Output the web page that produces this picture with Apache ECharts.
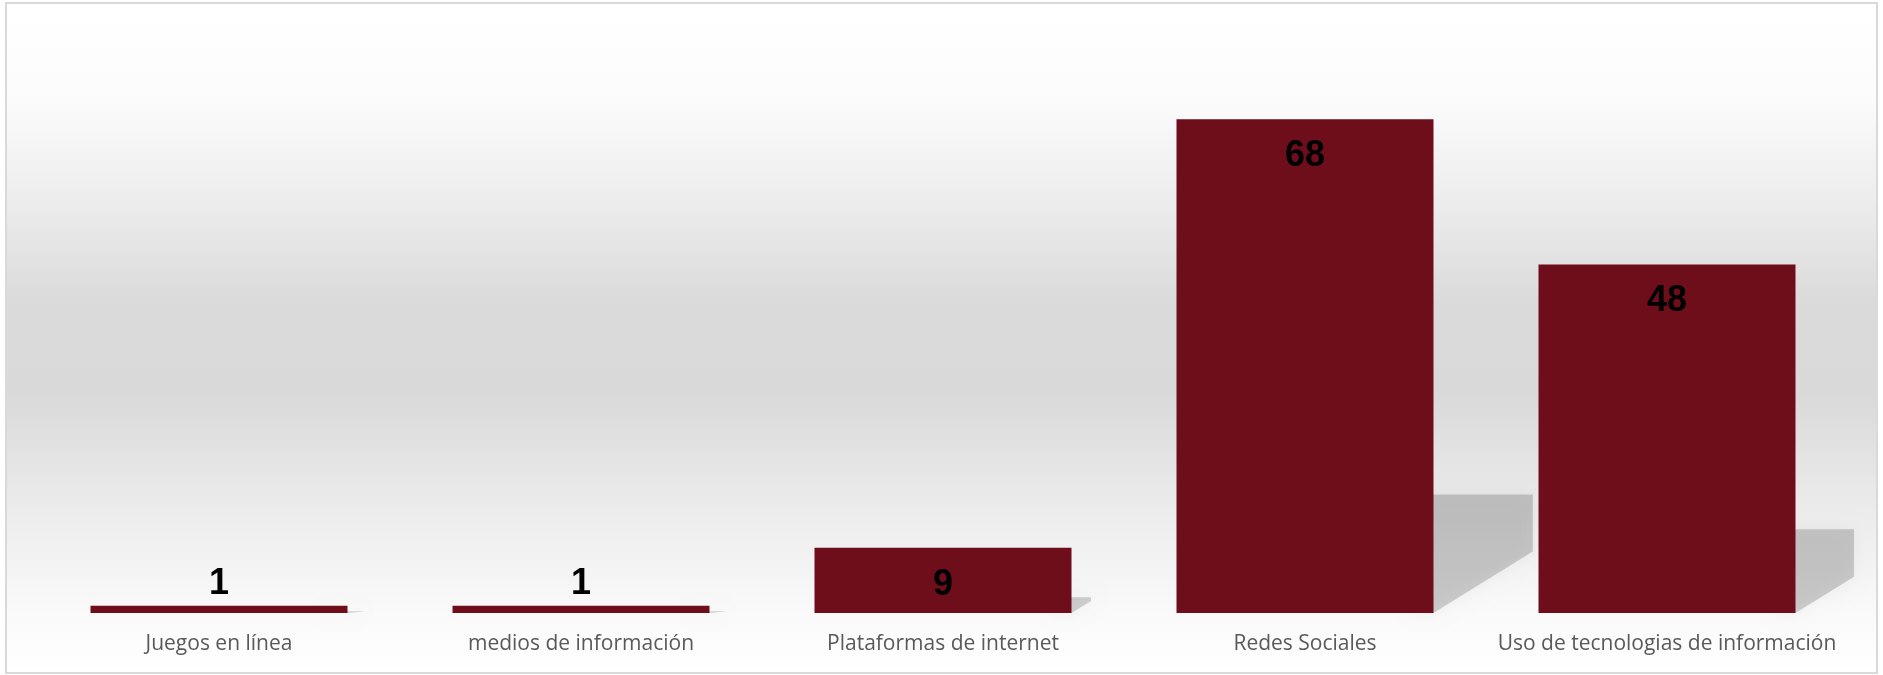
<!DOCTYPE html>
<html>
<head>
<meta charset="utf-8">
<script src="https://cdn.jsdelivr.net/npm/echarts@6/dist/echarts.min.js"></script>
<style>
html,body{margin:0;padding:0;background:#fff;}
#chart{width:1883px;height:675px;}
</style>
</head>
<body>
<div id="chart"></div>
<script>
const categories = ['Juegos en línea', 'medios de información', 'Plataformas de internet', 'Redes Sociales', 'Uso de tecnologias de información'];
const values = [1, 1, 9, 68, 48];

const chart = echarts.init(document.getElementById('chart'));

const barData = values.map(function (v) {
  if (v < 5) {
    return { value: v, label: { position: 'top', distance: 4 } };
  }
  return { value: v };
});

function renderShadow(params, api) {
  const idx = api.value(0);
  const val = api.value(1);
  const base = api.coord([idx, 0]);
  const topPt = api.coord([idx, val]);
  const bw = 257;
  const R = base[0] + bw / 2;
  const bottom = base[1];
  const h = bottom - topPt[1];
  const hs = 0.24 * h;
  const slope = 0.62;
  const s = 18 + h * h / 3000;
  const diagH = Math.min(hs, s * slope);
  const top = bottom - hs;
  return {
    type: 'polygon',
    shape: {
      points: [
        [R - 20, bottom],
        [R - 20, top],
        [R + s, top],
        [R + s, bottom - diagH],
        [R, bottom]
      ]
    },
    style: {
      fill: 'rgba(0,0,0,0.17)',
      shadowBlur: 16,
      shadowColor: 'rgba(0,0,0,0.25)'
    }
  };
}

chart.setOption({
  animation: false,
  graphic: [{
    type: 'rect',
    z: -10,
    silent: true,
    shape: { x: 6, y: 3, width: 1871, height: 670 },
    style: {
      fill: new echarts.graphic.LinearGradient(0, 0, 0, 1, [
        { offset: 0, color: '#ffffff' },
        { offset: 0.15, color: '#fbfbfb' },
        { offset: 0.3, color: '#ececec' },
        { offset: 0.45, color: '#dadada' },
        { offset: 0.58, color: '#d9d9d9' },
        { offset: 0.75, color: '#ebebeb' },
        { offset: 0.9, color: '#f9f9f9' },
        { offset: 1, color: '#ffffff' }
      ]),
      stroke: '#d9d9d9',
      lineWidth: 2
    }
  }],
  grid: { left: 38, right: 35, top: 32, bottom: 62, containLabel: false },
  xAxis: {
    type: 'category',
    data: categories,
    axisLine: { show: false },
    axisTick: { show: false },
    axisLabel: {
      color: '#595959',
      fontFamily: 'Open Sans',
      fontSize: 21,
      margin: 21,
      interval: 0
    }
  },
  yAxis: {
    type: 'value',
    min: 0,
    max: 80,
    show: false,
    splitLine: { show: false }
  },
  series: [
    {
      type: 'custom',
      renderItem: renderShadow,
      data: values.map(function (v, i) { return [i, v]; }),
      z: 1,
      silent: true
    },
    {
      type: 'bar',
      data: barData,
      barWidth: 257,
      z: 2,
      itemStyle: { color: '#6e0e1b' },
      label: {
        show: true,
        position: 'insideTop',
        distance: 19,
        color: '#000000',
        fontFamily: 'Liberation Sans',
        fontWeight: 'bold',
        fontSize: 36
      }
    }
  ]
});
</script>
</body>
</html>
